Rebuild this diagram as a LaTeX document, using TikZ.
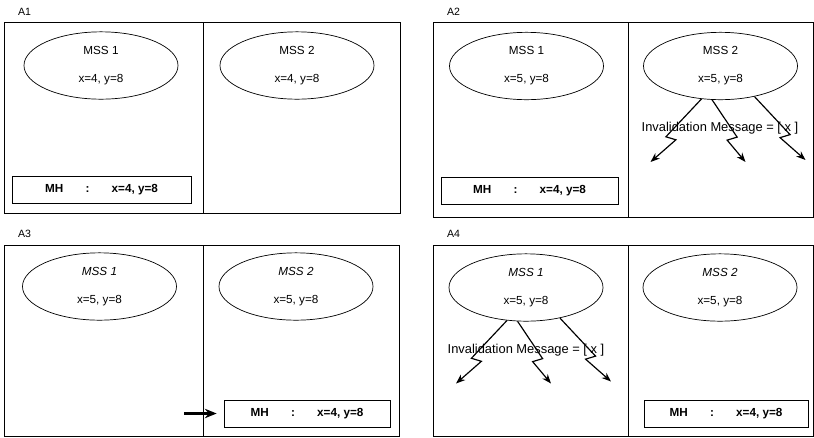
\documentclass[tikz,border=0pt]{standalone}
\usepackage{fontspec}
\setmainfont{Liberation Sans}
\usetikzlibrary{arrows.meta,calc,shapes.geometric}

\begin{document}
\begin{tikzpicture}[x=0.03cm,y=-0.03cm,
  frame/.style={draw,line width=0.6pt},
  mss/.style={ellipse,draw,line width=0.6pt,minimum width=4.62cm,minimum height=2.02cm,inner sep=0pt,align=center,font=\fontsize{10}{24}\selectfont},
  mh/.style={draw,line width=0.6pt,minimum width=#1,minimum height=0.81cm,font=\fontsize{10}{12}\selectfont\bfseries},
  tag/.style={anchor=west,font=\fontsize{9}{11}\selectfont},
  inval/.style={font=\fontsize{11}{13}\selectfont},
  bolt/.style={line width=1pt,-{Stealth[length=8pt,width=6pt]}},
  push/.style={line width=2pt,-{Stealth[length=10pt,width=8pt]},shorten >=0.21cm}]
\useasboundingbox (0,0) rectangle (814,437);

% A1
\node[tag] (a1) at (14,12) {A1};
\draw[frame] (4,22) rectangle (400,213) (203,22) -- (203,213);
\node[mss] (m11) at (101,65.5) {MSS 1\\x=4, y=8};
\node[mss] (m12) at (297,65.5) {MSS 2\\x=4, y=8};
\node[mh=5.37cm] (h1) at (101.5,189.5) {MH\hspace{19pt}:\hspace{19pt}x=4, y=8};

% A2
\node[tag] (a2) at (443,12) {A2};
\draw[frame] (433,22) rectangle (813,217) (628,22) -- (628,217);
\node[mss] (m21) at (526.5,66) {MSS 1\\x=5, y=8};
\node[mss] (m22) at (720.5,66) {MSS 2\\x=5, y=8};
\node[mh=5.31cm] (h2) at (529.5,190.5) {MH\hspace{19pt}:\hspace{19pt}x=4, y=8};
\node[inval] (t2) at (720,128) {Invalidation Message = [ x ]};

% A3
\node[tag] (a3) at (14,234) {A3};
\draw[frame] (4,245) rectangle (399,436) (203,245) -- (203,436);
\node[mss] (m31) at (99.5,286.5) {\textit{MSS 1}\\x=5, y=8};
\node[mss] (m32) at (296,286.5) {\textit{MSS 2}\\x=5, y=8};
\node[mh=4.98cm] (h3) at (307,413.5) {MH\hspace{19pt}:\hspace{19pt}x=4, y=8};
\coordinate (p3) at (184,413.5);
\draw[push] (p3) -- (h3.west);

% A4
\node[tag] (a4) at (443,234) {A4};
\draw[frame] (433,245) rectangle (813,436) (628,245) -- (628,436);
\node[mss] (m41) at (526,287.5) {\textit{MSS 1}\\x=5, y=8};
\node[mss] (m42) at (720,287.5) {\textit{MSS 2}\\x=5, y=8};
\node[mh=4.92cm] (h4) at (726,414) {MH\hspace{19pt}:\hspace{19pt}x=4, y=8};
\node[inval] (t4) at (526,350) {Invalidation Message = [ x ]};

% invalidation bolts
\foreach \m in {m22,m41} {
  \foreach \ang/\ex/\ey/\j [count=\k] in {-120/-70/96/-5,-104/25/96/5,-42/85/94/5} {
    \coordinate (\m e\k) at ($(\m.center)+(\ex,\ey)$);
    \draw[bolt] (\m.\ang) -- ($(\m.\ang)!0.6!(\m e\k)+(\j,0)$)
      -- ($(\m.\ang)!0.6!(\m e\k)+(-\j,3)$) -- (\m e\k);
  }
}
\end{tikzpicture}
\end{document}
